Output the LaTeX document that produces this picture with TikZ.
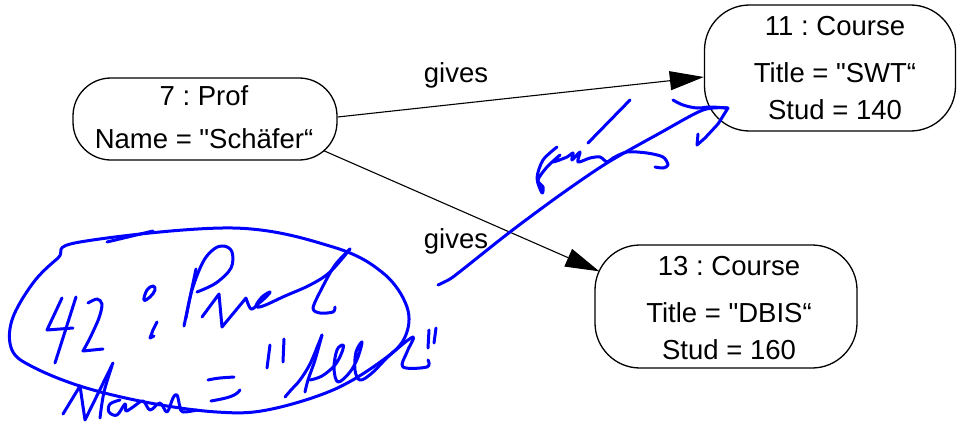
\documentclass[tikz,border=0pt]{standalone}
\usepackage{fontspec}
\setmainfont{Liberation Sans}
\frenchspacing
\usetikzlibrary{arrows.meta,calc}
\definecolor{inkblue}{RGB}{0,0,255}
\newcommand{\sq}{\textquotedbl}
\begin{document}
\begin{tikzpicture}[x=1pt,y=-1pt,
  objbox/.style={draw,line width=1.3pt,inner sep=0pt},
  txt/.style={anchor=base,inner sep=0pt,font=\fontsize{27.5}{33}\selectfont},
  link/.style={line width=1.1pt,-{Triangle[length=34pt,width=19pt]}},
  ink/.style={draw=inkblue,line width=3pt,line cap=round,line join=round}]
\useasboundingbox (0,0) rectangle (957,423);

% object boxes
\node[objbox,rounded corners=38pt,minimum width=264pt,minimum height=82pt] (prof) at (205,119) {};
\node[objbox,rounded corners=45pt,minimum width=251pt,minimum height=126pt] (c11) at (830,68) {};
\node[objbox,rounded corners=45pt,minimum width=262pt,minimum height=123pt] (c13) at (726,306.5) {};

% object texts
\node[txt] (p1) at (204,105) {7 : Prof};
\node[txt] (p2) at (204,148) {Name = \sq Schäfer“};
\node[txt] (a1) at (835,35) {11 : Course};
\node[txt] (a2) at (835,82) {Title = \sq SWT“};
\node[txt] (a3) at (835,119) {Stud = 140};
\node[txt] (b1) at (729,275) {13 : Course};
\node[txt] (b2) at (729,322) {Title = \sq DBIS“};
\node[txt] (b3) at (729,359) {Stud = 160};

% links
\draw[link] ($(prof.east)+(0,-2)$) -- ($(c11.west)+(0,9)$);
\draw[link] ($(prof.south east)+(-14,-10)$) -- ($(c13.north west)+(5,27)$);
\node[txt] (g1) at (456,82) {gives};
\node[txt] (g2) at (456,248) {gives};

% handwritten annotation: ellipse
\draw[ink] plot[smooth cycle,tension=0.6] coordinates {(80,242) (233,228) (333,247) (383,273) (407,307) (405,337) (383,360) (333,390) (267,410) (217,412) (150,403) (83,387) (33,367) (12,350) (12,320) (33,283) (58,258)};
\draw[ink] (107,242) -- (153,231);

% "42 : Prof"
\draw[ink] (62,298) -- (47,330) -- (73,328);
\draw[ink] (76,297) -- (55,363);
\draw[ink] plot[smooth,tension=0.5] coordinates {(88,303) (97,299) (102,304) (99,318) (90,338) (83,351)} -- (103,349);
\draw[ink] plot[smooth cycle,tension=0.7] coordinates {(144,300) (147,290) (153,286) (155,290) (150,297)};
\draw[ink] (157,322) -- (153,330) -- (150,338) -- (154,336);
\draw[ink] (196,269) -- (184,326);
\draw[ink] plot[smooth,tension=0.6] coordinates {(186,318) (192,290) (203,262) (214,249) (224,246) (232,252) (231,268) (216,283) (197,292)};
\draw[ink] (202,317) -- (219,294) -- (222,327) -- (246,298)
  plot[smooth,tension=0.6] coordinates {(246,298) (251,309) (258,304) (266,297) (270,292) (262,297) (256,306) (263,306) (285,296) (310,285) (330,272) (350,249)};
\draw[ink] plot[smooth,tension=0.5] coordinates {(350,249) (335,265) (322,288) (313,308) (320,313) (333,312) (335,307)};

% "Name = "Alla""
\draw[ink] (63,414) -- (80,386) -- (85,420) -- (113,363);
\draw[ink] plot[smooth,tension=0.6] coordinates {(112,366) (104,392) (100,418)};
\draw[ink] plot[smooth,tension=0.6] coordinates {(120,400) (110,404) (109,412) (117,415) (125,404) (126,411) (133,407) (143,401) (150,410) (160,403) (167,412) (173,398) (177,395) (180,407) (183,412) (197,410)};
\draw[ink] (208,380) .. controls (218,378) .. (234,377);
\draw[ink] (211,401) .. controls (228,398) and (236,396) .. (240,390);
\draw[ink] (270,345) -- (267,368);
\draw[ink] (284,339) -- (283,362);
\draw[ink] plot[smooth,tension=0.6] coordinates {(285,397) (291,390) (300,380) (310,364) (318,345) (322,335)};
\draw[ink] plot[smooth,tension=0.6] coordinates {(322,335) (315,360) (308,380) (305,392)};
\draw[ink] plot[smooth,tension=0.6] coordinates {(310,380) (322,376) (335,365) (342,352) (343,345) (337,350) (334,368) (338,382) (350,372) (358,357) (362,342) (356,352) (355,370) (360,380) (372,373) (390,355) (413,337) (407,352) (403,367) (427,367) (428,360)};
\draw[ink] (429,330) -- (428,348);
\draw[ink] (436,328) -- (434,343);

% stroke towards 11 : Course with scribble
\draw[ink] plot[smooth,tension=0.5] coordinates {(438,285) (450,279) (462,270) (510,232) (560,195) (607,163) (660,133) (703,110) (728,108)} -- (718,124) -- (705,138) -- (697,145) -- (698,134);
\draw[ink] plot[smooth,tension=0.6] coordinates {(673,100) (683,105) (697,108) (710,107) (727,108)};
\draw[ink] (630,100) -- (588,143);
\draw[ink] plot[smooth,tension=0.5] coordinates {(557,147) (543,160) (537,178) (542,193) (543,187) (538,180) (547,167) (560,155) (553,162) (567,157) (573,153) (572,160) (580,152) (578,162) (590,158) (600,157) (607,162) (613,158) (627,152) (647,153) (663,157) (668,165) (663,168) (655,167)};
\end{tikzpicture}
\end{document}
